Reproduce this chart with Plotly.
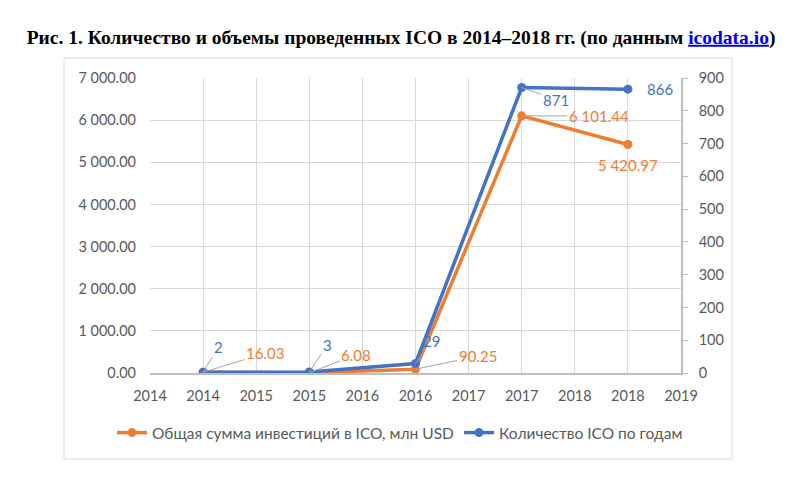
import plotly.graph_objects as go

years = [2014, 2015, 2016, 2017, 2018]
invest = [16.03, 6.08, 90.25, 6101.44, 5420.97]
counts = [2, 3, 29, 871, 866]
invest_labels = ["16.03", "6.08", "90.25", "6 101.44", "5 420.97"]
count_labels = ["2", "3", "29", "871", "866"]
x_tickvals = [2013.5, 2014, 2014.5, 2015, 2015.5, 2016, 2016.5, 2017, 2017.5, 2018, 2018.5]
x_ticktext = ["2014", "2014", "2015", "2015", "2016", "2016", "2017", "2017", "2018", "2018", "2019"]

ORANGE = "#ED7D31"
BLUE = "#4472C4"
GRID = "#d9d9d9"
AXIS = "#bfbfbf"
TICKC = "#595959"
FONT = "Lato"

fig = go.Figure()
fig.add_trace(go.Scatter(
    x=years, y=invest, name="Общая сумма инвестиций в ICO, млн USD",
    mode="lines+markers", line=dict(color=ORANGE, width=3.5),
    marker=dict(size=9, color=ORANGE), yaxis="y"))
fig.add_trace(go.Scatter(
    x=years, y=counts, name="Количество ICO по годам",
    mode="lines+markers", line=dict(color=BLUE, width=3.5),
    marker=dict(size=9, color=BLUE), yaxis="y2"))

# label offsets (pixels) : (ax, ay, arrow)
inv_off = [(62, -19, True), (47, -18, True), (62, -13, True), (77, 0, True), (0, 20, False)]
cnt_off = [(15, -25, True), (18, -27, True), (16, -22, True), (34, 12, True), (32, 0, False)]

ann = []
for x, v, t, (ax, ay, arr) in zip(years, invest, invest_labels, inv_off):
    d = dict(x=x, y=v, xref="x", yref="y", text=t,
             font=dict(family=FONT, size=15, color=ORANGE))
    if arr:
        d.update(showarrow=True, ax=ax, ay=ay, arrowhead=0, arrowwidth=1,
                 arrowcolor="#a6a6a6")
    else:
        d.update(showarrow=False, xshift=ax, yshift=-ay)
    ann.append(d)
for x, v, t, (ax, ay, arr) in zip(years, counts, count_labels, cnt_off):
    d = dict(x=x, y=v, xref="x", yref="y2", text=t,
             font=dict(family=FONT, size=15, color=BLUE))
    if arr:
        d.update(showarrow=True, ax=ax, ay=ay, arrowhead=0, arrowwidth=1,
                 arrowcolor="#a6a6a6")
    else:
        d.update(showarrow=False, xshift=ax, yshift=-ay)
    ann.append(d)

fig.update_layout(
    width=791, height=485,
    margin=dict(l=150, r=110, t=78, b=112, autoexpand=False),
    paper_bgcolor="white", plot_bgcolor="white",
    separators=". ",
    font=dict(family=FONT, size=14, color=TICKC),
    title=dict(
        text='<b>Рис. 1. Количество и объемы проведенных ICO в 2014–2018 гг. (по данным '
             '<span style="color:#0000ee"><u>icodata.io</u></span>)</b>',
        font=dict(family="Liberation Serif", size=19.5, color="black"),
        xref="container", x=0.507, xanchor="center",
        yref="container", y=1 - 37 / 485, yanchor="middle"),
    xaxis=dict(range=[2013.5, 2018.5], tickvals=x_tickvals, ticktext=x_ticktext,
               showgrid=True, gridcolor=GRID, gridwidth=1,
               showline=True, linecolor=AXIS, linewidth=1.5,
               ticks="", zeroline=False, ticklabelstandoff=9,
               tickfont=dict(family=FONT, size=14.5, color=TICKC)),
    yaxis=dict(range=[0, 7000], dtick=1000, tickformat=",.2f",
               showgrid=True, gridcolor=GRID, gridwidth=1,
               zeroline=False, showline=False, ticks="",
               ticklabelstandoff=13,
               tickfont=dict(family=FONT, size=14.5, color=TICKC)),
    yaxis2=dict(range=[0, 900], dtick=100, overlaying="y", side="right",
                showgrid=False, zeroline=False,
                showline=True, linecolor=AXIS, linewidth=1.5,
                ticks="outside", ticklen=5, tickcolor=AXIS,
                ticklabelstandoff=8,
                tickfont=dict(family=FONT, size=14.5, color=TICKC)),
    showlegend=True,
    legend=dict(orientation="h", xref="paper", yref="paper",
                x=(112 - 150) / 531, xanchor="left",
                y=(373 - 433) / 295, yanchor="middle",
                font=dict(family=FONT, size=15.5, color=TICKC),
                traceorder="normal"),
    annotations=ann,
    shapes=[dict(type="rect", xref="paper", yref="paper",
                 x0=(64 - 150) / 531, x1=(732 - 150) / 531,
                 y0=(373 - 459) / 295, y1=(373 - 58) / 295,
                 line=dict(color=GRID, width=1), layer="below")],
)

fig.write_html("out.html")
